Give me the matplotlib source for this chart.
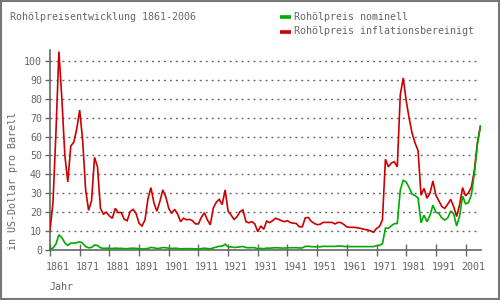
import matplotlib
matplotlib.use("Agg")
import matplotlib.pyplot as plt
from matplotlib.lines import Line2D
from matplotlib.patches import Rectangle
from matplotlib.transforms import ScaledTranslation

years = list(range(1861, 2007))

# Rohölpreis nominell (US-Dollar pro Barrel)
nominell = [
    0.49, 1.05, 3.15, 8.06, 6.59, 3.74, 2.41, 3.63, 3.64, 3.86,   # 1861-1870
    4.34, 3.64, 1.83, 1.17, 1.35, 2.56, 2.42, 1.19, 0.86, 0.95,   # 1871-1880
    0.86, 0.78, 1.00, 0.84, 0.88, 0.71, 0.67, 0.88, 0.94, 0.87,   # 1881-1890
    0.67, 0.56, 0.64, 0.84, 1.36, 1.18, 0.79, 0.91, 1.29, 1.19,   # 1891-1900
    0.96, 0.80, 0.94, 0.86, 0.62, 0.73, 0.72, 0.72, 0.70, 0.61,   # 1901-1910
    0.61, 0.74, 0.95, 0.81, 0.64, 1.10, 1.56, 1.98, 2.01, 3.07,   # 1911-1920
    1.73, 1.61, 1.34, 1.43, 1.68, 1.88, 1.30, 1.17, 1.27, 1.19,   # 1921-1930
    0.65, 0.87, 0.67, 1.00, 0.97, 1.09, 1.18, 1.13, 1.02, 1.02,   # 1931-1940
    1.14, 1.19, 1.20, 1.21, 1.05, 1.12, 1.90, 1.99, 1.78, 1.71,   # 1941-1950
    1.71, 1.71, 1.93, 1.93, 1.93, 1.93, 1.90, 2.08, 2.08, 1.90,   # 1951-1960
    1.80, 1.80, 1.80, 1.80, 1.80, 1.80, 1.80, 1.80, 1.80, 1.80,   # 1961-1970
    2.24, 2.48, 3.29, 11.58, 11.53, 12.80, 13.92, 14.02, 31.61, 36.83,  # 1971-1980
    35.93, 32.97, 29.55, 28.78, 27.56, 14.43, 18.44, 14.92, 18.23, 23.73,  # 1981-1990
    20.00, 19.32, 16.97, 15.82, 17.02, 20.67, 19.09, 12.72, 17.97, 28.50,  # 1991-2000
    24.44, 25.02, 29.5, 41.0, 56.0, 65.5,                          # 2001-2006
]

# Rohölpreis inflationsbereinigt
bereinigt = [
    10.5, 25, 62, 105, 80, 50, 36, 55, 57, 64,                     # 1861-1870
    74, 58, 32, 21, 26, 49, 44, 22, 19, 20,                        # 1871-1880
    18, 16.8, 22, 19.8, 19.8, 16.3, 15.5, 20.3, 21.5, 19.4,        # 1881-1890
    14.1, 12.7, 15.9, 27, 33, 25, 20.5, 25.6, 31.8, 28.2,          # 1891-1900
    22, 19.4, 21.5, 19, 15, 16.8, 16, 16.2, 15.5, 13.8,            # 1901-1910
    13.8, 17.3, 19.7, 16, 13.3, 22.1, 25.2, 26.8, 24, 31.8,        # 1911-1920
    20.5, 18.5, 16.2, 17.6, 20.3, 21.2, 15, 14.4, 15, 13.8,        # 1921-1930
    9.7, 12.7, 11, 15.3, 14.5, 15.5, 16.8, 16.2, 15.5, 15,         # 1931-1940
    15.5, 14.5, 14.2, 14, 12.3, 12.3, 17, 17.2, 15.2, 14.1,        # 1941-1950
    13.4, 13.6, 14.6, 14.6, 14.6, 14.6, 13.8, 14.6, 14.5, 13.5,    # 1951-1960
    12.2, 12, 12, 11.9, 11.6, 11.3, 10.9, 10.6, 10.1, 9.4,         # 1961-1970
    11.4, 12.4, 16, 48, 44, 46, 46.7, 44, 82, 91,                  # 1971-1980
    79, 69.6, 61.7, 56.5, 52.6, 29, 32.6, 27.4, 30, 36.5,          # 1981-1990
    29, 26, 23, 22, 24.3, 26.8, 22.9, 17.7, 24, 33,                # 1991-2000
    28.6, 30.3, 33.5, 42.5, 57, 65.5,                              # 2001-2006
]

yticks = list(range(0, 101, 10))
xticks = list(range(1861, 2002, 10))

grey = "#666666"
green = "#00aa00"
red = "#cc0000"
font = "DejaVu Sans Mono"
fs = 7.2

fig = plt.figure(figsize=(5, 3), dpi=100)
ax = fig.add_axes([50 / 500, 50 / 300, 431 / 500, 200 / 300])

ax.plot(years, bereinigt, color=red, lw=1.2, solid_joinstyle="miter", zorder=3)
ax.plot(years, nominell, color=green, lw=1.2, solid_joinstyle="miter", zorder=4)

ax.set_xlim(1861, 2006.2)
ax.set_ylim(0, 105.8)

ax.hlines(yticks[1:], 1861, 2004.5, colors=grey, linestyles=(0, (1.4, 2.9)), lw=1.0, zorder=1)

for s in ["top", "right"]:
    ax.spines[s].set_visible(False)
for s in ["left", "bottom"]:
    ax.spines[s].set_color(grey)
    ax.spines[s].set_linewidth(1.2)

ax.set_yticks(yticks)
ax.set_yticklabels([str(v) for v in yticks], family=font, fontsize=fs, color=grey)
ax.tick_params(axis="y", length=3.6, width=1.0, color=grey, pad=2.2)

ax.set_xticks(xticks)
ax.set_xticklabels([str(v) for v in xticks], family=font, fontsize=fs, color=grey)
ax.tick_params(axis="x", direction="inout", length=8.6, width=1.0, color=grey, pad=4.6)
shift = ScaledTranslation(-4 / 100, 0, fig.dpi_scale_trans)
for lab in ax.get_xticklabels():
    lab.set_ha("left")
    lab.set_transform(lab.get_transform() + shift)

fig.text(10 / 500, 1 - 16.5 / 300, "Rohölpreisentwicklung 1861-2006",
         family=font, fontsize=fs, color=grey, va="center", ha="left")
fig.text(50 / 500, 1 - 287 / 300, "Jahr", family=font, fontsize=fs,
         color=grey, va="center", ha="left")
fig.text(13 / 500, 50 / 300, "in US-Dollar pro Barell", family=font, fontsize=fs,
         color=grey, rotation=90, ha="center", va="bottom")

# legend
for i, (lbl, col) in enumerate([("Rohölpreis nominell", green),
                                 ("Rohölpreis inflationsbereinigt", red)]):
    yy = 1 - (16.5 + 15 * i) / 300
    fig.add_artist(Line2D([280 / 500, 291 / 500], [yy, yy], color=col, lw=2.6,
                          solid_capstyle="butt"))
    fig.text(294 / 500, yy, lbl, family=font, fontsize=fs, color=grey,
             va="center", ha="left")

fig.add_artist(Rectangle((0.002, 0.003), 0.996, 0.994, transform=fig.transFigure,
                         fill=False, edgecolor="#777777", lw=1.5))

fig.savefig("out.png", dpi=100)
